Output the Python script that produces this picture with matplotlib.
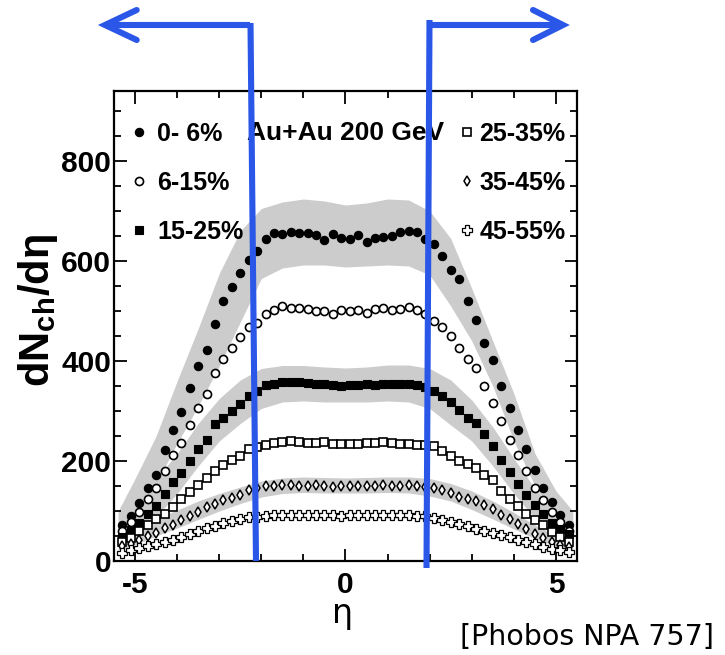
import matplotlib
matplotlib.use('Agg')
import matplotlib.pyplot as plt
from matplotlib.ticker import MultipleLocator

# pseudorapidity bin centres
eta = [-5.3, -5.1, -4.9, -4.7, -4.5, -4.3, -4.1, -3.9, -3.7,
       -3.5, -3.3, -3.1, -2.9, -2.7, -2.5, -2.3, -2.1, -1.9,
       -1.7, -1.5, -1.3, -1.1, -0.9, -0.7, -0.5, -0.3, -0.1,
       0.1, 0.3, 0.5, 0.7, 0.9, 1.1, 1.3, 1.5, 1.7,
       1.9, 2.1, 2.3, 2.5, 2.7, 2.9, 3.1, 3.3, 3.5,
       3.7, 3.9, 4.1, 4.3, 4.5, 4.7, 4.9, 5.1, 5.3]

# dNch/deta per centrality class
cen_0_6 = [72, 90, 116, 147, 173, 223, 262, 299, 347,
           390, 422, 474, 521, 549, 576, 603, 620, 645,
           657, 655, 658, 657, 657, 653, 642, 655, 647,
           644, 653, 639, 647, 649, 650, 659, 660, 658,
           645, 635, 611, 582, 565, 520, 482, 437, 403,
           351, 307, 263, 225, 182, 147, 119, 92, 72]
cen_6_15 = [60, 78, 99, 125, 147, 180, 213, 237, 273,
            307, 334, 376, 404, 427, 448, 468, 477, 494,
            503, 510, 507, 506, 504, 501, 501, 494, 502,
            501, 502, 496, 504, 507, 502, 505, 508, 502,
            494, 480, 469, 450, 427, 405, 387, 350, 317,
            280, 243, 212, 181, 147, 123, 99, 79, 61]
cen_15_25 = [49, 62, 76, 95, 110, 134, 158, 177, 201,
             224, 243, 275, 287, 300, 315, 330, 340, 352,
             355, 359, 359, 358, 357, 355, 354, 352, 351,
             352, 352, 354, 353, 354, 354, 355, 354, 352,
             349, 340, 330, 318, 302, 287, 277, 254, 230,
             202, 179, 155, 133, 112, 94, 77, 65, 54]
cen_25_35 = [39, 47, 60, 72, 85, 95, 109, 124, 138,
             152, 166, 181, 192, 202, 211, 224, 229, 233,
             237, 239, 241, 239, 237, 237, 239, 235, 235,
             235, 235, 237, 237, 239, 237, 235, 235, 233,
             232, 231, 221, 210, 200, 195, 187, 173, 162,
             140, 124, 111, 95, 83, 72, 59, 49, 39]
cen_35_45 = [30, 34, 43, 51, 57, 67, 72, 83, 90,
             99, 108, 115, 122, 127, 133, 143, 146, 150,
             151, 152, 153, 151, 150, 152, 150, 149, 150,
             150, 150, 151, 151, 152, 150, 151, 152, 150,
             148, 147, 142, 137, 129, 124, 121, 113, 104,
             92, 84, 74, 65, 54, 46, 39, 32, 28]
cen_45_55 = [17, 22, 26, 30, 34, 38, 43, 48, 54,
             60, 66, 71, 77, 80, 85, 88, 89, 91,
             92, 93, 93, 92, 92, 93, 92, 92, 91,
             92, 92, 92, 93, 92, 92, 92, 92, 91,
             90, 87, 83, 78, 74, 70, 65, 61, 57,
             53, 48, 43, 39, 34, 29, 25, 22, 18]

# systematic error bands
eta_band = [-5.4, -5.0, -4.5, -4.0, -3.5, -3.0, -2.5, -2.0, -1.5, -1.0, -0.5, 0.0,
            0.5, 1.0, 1.5, 2.0, 2.5, 3.0, 3.5, 4.0, 4.5, 5.0, 5.4]
band_0_6_hi = [100, 165, 250, 360, 465, 575, 660, 705, 718, 724, 720, 712,
               716, 724, 722, 700, 645, 545, 440, 335, 215, 140, 100]
band_0_6_lo = [50, 88, 155, 235, 310, 390, 478, 565, 586, 592, 592, 588,
               590, 592, 590, 572, 510, 440, 350, 240, 150, 88, 60]
band_15_25_hi = [100, 122, 165, 215, 275, 325, 362, 385, 391, 391, 388, 386,
                 388, 392, 392, 385, 362, 322, 268, 205, 145, 100, 82]
band_15_25_lo = [35, 50, 88, 135, 190, 240, 275, 305, 318, 320, 318, 318,
                 318, 320, 318, 305, 272, 240, 190, 135, 85, 52, 35]
band_35_45_hi = [58, 68, 85, 102, 120, 135, 148, 160, 166, 168, 167, 166,
                 167, 168, 168, 165, 155, 140, 120, 97, 72, 52, 40]
band_35_45_lo = [22, 33, 50, 66, 83, 100, 115, 128, 135, 137, 136, 136,
                 136, 137, 136, 130, 120, 103, 84, 64, 45, 29, 22]

labels = ['0- 6%', '6-15%', '15-25%', '25-35%', '35-45%', '45-55%']
xtick_vals = [-5, 0, 5]
xtick_labels = ['-5', '0', '5']
ytick_vals = [0, 200, 400, 600, 800]

plt.rcParams['mathtext.fontset'] = 'custom'
plt.rcParams['mathtext.rm'] = 'Liberation Sans:bold'
plt.rcParams['mathtext.it'] = 'Liberation Sans:bold'
plt.rcParams['mathtext.bf'] = 'Liberation Sans:bold'

blue = '#2b57e8'
grey = '#cccccc'

fig = plt.figure(figsize=(7.25, 6.55), dpi=100)
W, H = 725, 655
ax = fig.add_axes([114 / W, 1 - 561 / H, 463 / W, 470 / H])

# bands
for lo, hi in [(band_0_6_lo, band_0_6_hi), (band_15_25_lo, band_15_25_hi),
               (band_35_45_lo, band_35_45_hi)]:
    ax.fill_between(eta_band, lo, hi, color=grey, lw=0, zorder=1)

series = [cen_0_6, cen_6_15, cen_15_25, cen_25_35, cen_35_45, cen_45_55]
styles = [
    dict(marker='o', ms=6, mfc='black', mec='black', mew=0.8),
    dict(marker='o', ms=5.8, mfc='white', mec='black', mew=1.2),
    dict(marker='s', ms=5.4, mfc='black', mec='black', mew=0.8),
    dict(marker='s', ms=5.3, mfc='white', mec='black', mew=1.2),
    dict(marker='d', ms=5.6, mfc='white', mec='black', mew=1.1),
    dict(marker='P', ms=7.2, mfc='white', mec='black', mew=0.9),
]
handles = []
for vals, st in zip(series, styles):
    h, = ax.plot(eta, vals, ls='none', zorder=3, **st)
    handles.append(h)

ax.set_xlim(-5.5, 5.5)
ax.set_ylim(0, 940)
ax.set_xticks(xtick_vals, labels=xtick_labels)
ax.set_yticks(ytick_vals)
ax.xaxis.set_minor_locator(MultipleLocator(1))
ax.yaxis.set_minor_locator(MultipleLocator(50))
ax.tick_params(which='both', direction='in', top=True, right=True, width=1.3)
ax.tick_params(which='major', length=9)
ax.tick_params(which='minor', length=5)
ax.tick_params(axis='x', pad=7)
ax.tick_params(axis='y', pad=2)
for lab in ax.get_xticklabels() + ax.get_yticklabels():
    lab.set_family('Liberation Sans')
    lab.set_weight('bold')
    lab.set_size(21.5)
for sp in ax.spines.values():
    sp.set_linewidth(1.6)

# legends
leg_font = dict(family='Liberation Sans', weight='bold', size=18)
leg1 = ax.legend(handles[:3], labels[:3], loc='upper left', bbox_to_anchor=(0.038, 0.935),
                 frameon=False, prop=leg_font, handlelength=0.6, handletextpad=0.42,
                 labelspacing=1.0, borderpad=0, borderaxespad=0)
ax.add_artist(leg1)
ax.legend(handles[3:], labels[3:], loc='upper left', bbox_to_anchor=(0.746, 0.935),
          frameon=False, prop=leg_font, handlelength=0.6, handletextpad=0.2,
          labelspacing=1.0, borderpad=0, borderaxespad=0)
ax.text(0.5, 0.91, 'Au+Au 200 GeV', transform=ax.transAxes, ha='center', va='center',
        family='Liberation Sans', weight='bold', size=19)

# axis titles
fig.text(38 / W, 1 - 311 / H, 'dN$_{\\rm ch}$/d\u03b7', rotation=90, ha='center', va='center',
         family='Liberation Sans', weight='bold', size=30)
fig.text(343 / W, 1 - 614 / H, '\u03b7', ha='center', va='center', family='DejaVu Sans', size=24)
fig.text(714 / W, 1 - 637 / H, '[Phobos NPA 757]', ha='right', va='center',
         family='DejaVu Sans', size=20.5)

# blue arrows drawn over everything, in pixel coordinates
ov = fig.add_axes([0, 0, 1, 1], facecolor='none')
ov.set_xlim(0, W)
ov.set_ylim(H, 0)
ov.axis('off')
lw = 4.4
ov.plot([105, 250], [25, 25], color=blue, lw=lw, solid_capstyle='butt')
ov.plot([250.5, 256], [23, 561], color=blue, lw=lw, solid_capstyle='butt')
ov.plot([136.7, 105, 136.7], [10, 25, 40], color=blue, lw=lw, solid_capstyle='round',
        solid_joinstyle='miter')
ov.plot([429.5, 426.5], [20, 568], color=blue, lw=lw, solid_capstyle='butt')
ov.plot([429, 563], [25, 25], color=blue, lw=lw, solid_capstyle='butt')
ov.plot([533, 563, 533], [10, 25, 40], color=blue, lw=lw, solid_capstyle='round',
        solid_joinstyle='miter')

fig.savefig('out.png', dpi=100, facecolor='white')
